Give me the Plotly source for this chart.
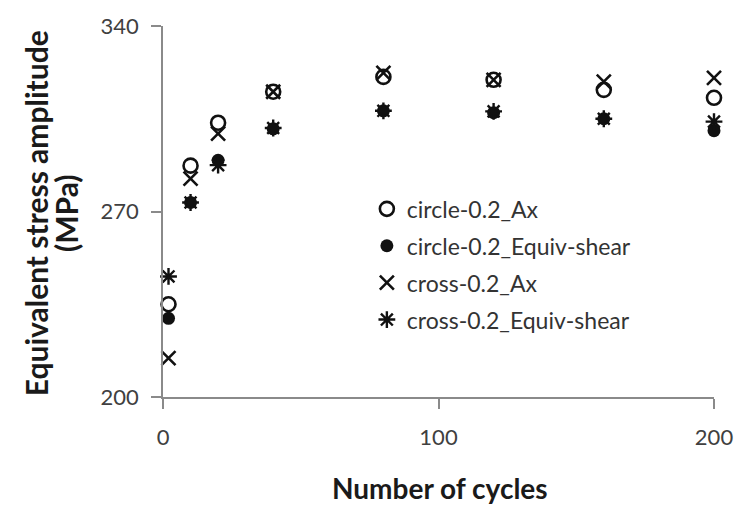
import plotly.graph_objects as go

# Number of cycles at which stress amplitudes were recorded
cycles = [2, 10, 20, 40, 80, 120, 160, 200]

# Equivalent stress amplitude (MPa) per specimen / component
circle_ax = [235.0, 287.3, 303.5, 315.2, 320.8, 319.7, 315.9, 312.9]
circle_equiv_shear = [229.7, 273.4, 289.3, 301.2, 308.0, 307.3, 305.0, 300.5]
cross_ax = [214.7, 282.4, 299.4, 315.2, 322.3, 319.7, 319.0, 320.4]
cross_equiv_shear = [245.5, 273.4, 287.5, 301.5, 308.0, 307.8, 305.0, 303.9]

series_names = [
    "circle-0.2_Ax",
    "circle-0.2_Equiv-shear",
    "cross-0.2_Ax",
    "cross-0.2_Equiv-shear",
]
x_ticks = [0, 100, 200]
y_ticks = [200, 270, 340]

x_title = "Number of cycles"
y_title_lines = ["Equivalent stress amplitude", "(MPa)"]

ink = "#111111"
font_family = "Lato, 'Open Sans', sans-serif"

styles = [
    dict(symbol="circle-open", size=14, color=ink, line=dict(width=2.6, color=ink)),
    dict(symbol="circle", size=13, color=ink, line=dict(width=0, color=ink)),
    dict(symbol="x-thin-open", size=14, color=ink, line=dict(width=2.6, color=ink)),
    dict(symbol="asterisk-open", size=14, color=ink, line=dict(width=2.4, color=ink)),
]

fig = go.Figure()
for i, (name, values) in enumerate(
    zip(series_names, [circle_ax, circle_equiv_shear, cross_ax, cross_equiv_shear])
):
    fig.add_trace(
        go.Scatter(
            x=cycles,
            y=values,
            mode="markers",
            name=name,
            legendgroup=f"g{i}",
            marker=styles[i],
            cliponaxis=False,
        )
    )

axis_color = "#8a8a8a"
tick_font = dict(size=22, color="#404040", family=font_family)
title_font = dict(size=28, color="#1a1a1a", family=font_family)

fig.update_layout(
    width=745,
    height=505,
    margin=dict(l=163, r=27, t=25, b=108),
    paper_bgcolor="white",
    plot_bgcolor="white",
    font=dict(family=font_family, color="#333333"),
    showlegend=True,
    legend=dict(
        x=0.37,
        y=0.565,
        xanchor="left",
        yanchor="top",
        traceorder="grouped",
        tracegroupgap=4,
        bgcolor="rgba(0,0,0,0)",
        font=dict(size=23, color="#333333", family=font_family),
        itemsizing="trace",
    ),
    xaxis=dict(
        range=[0, 200],
        tickvals=x_ticks,
        ticks="outside",
        ticklen=10,
        tickwidth=1.5,
        tickcolor=axis_color,
        ticklabelstandoff=10,
        showline=True,
        linecolor=axis_color,
        linewidth=1.5,
        showgrid=False,
        zeroline=False,
        tickfont=tick_font,
    ),
    yaxis=dict(
        range=[200, 340],
        tickvals=y_ticks,
        ticks="outside",
        ticklen=10,
        tickwidth=1.5,
        tickcolor=axis_color,
        ticklabelstandoff=8,
        showline=True,
        linecolor=axis_color,
        linewidth=1.5,
        showgrid=False,
        zeroline=False,
        tickfont=tick_font,
    ),
)

# Axis titles
fig.add_annotation(
    text=f"<b>{x_title}</b>",
    xref="paper", yref="paper",
    x=0.503, y=-0.245,
    xanchor="center", yanchor="middle",
    showarrow=False,
    font=title_font,
)
for line_text, px in zip(y_title_lines, [35, 66]):
    fig.add_annotation(
        text=f"<b>{line_text}</b>",
        xref="paper", yref="paper",
        x=(px - 163) / 555, y=0.495,
        xanchor="center", yanchor="middle",
        textangle=-90,
        showarrow=False,
        font=dict(size=30, color="#1a1a1a", family=font_family),
    )

fig.write_html("out.html")
